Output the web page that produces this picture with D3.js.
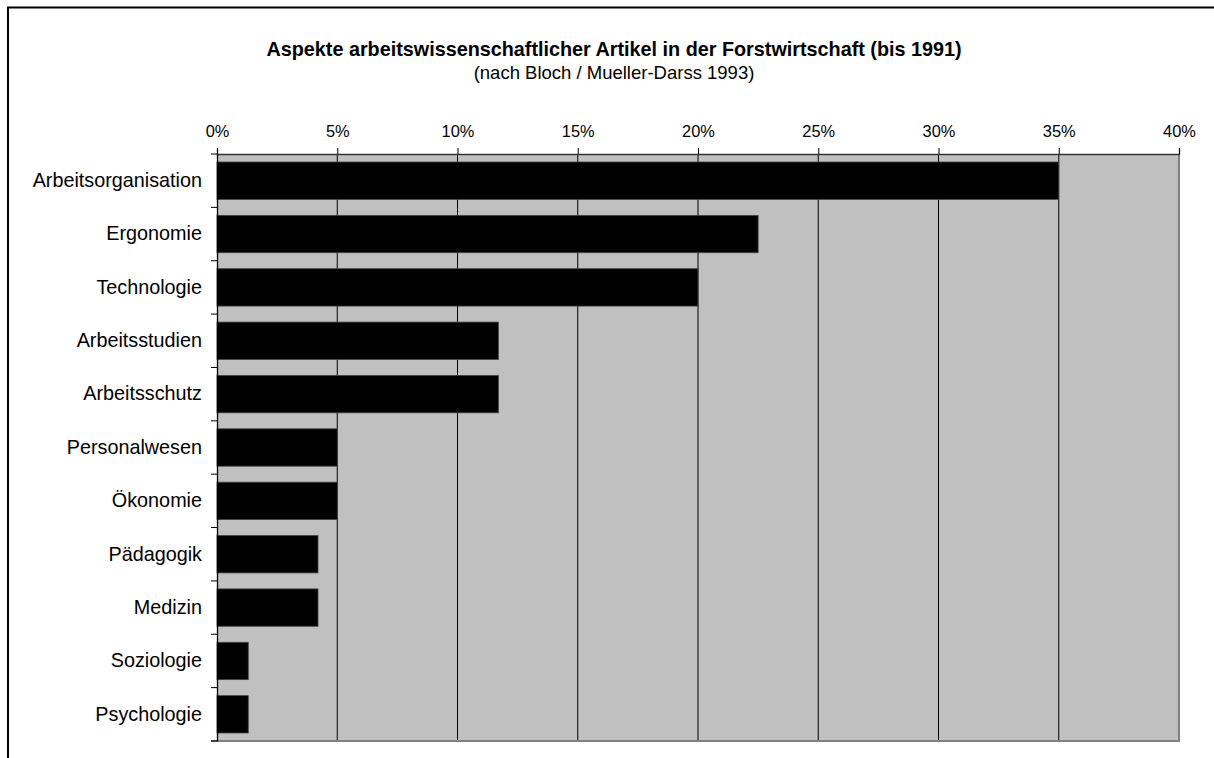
<!DOCTYPE html>
<html>
<head>
<meta charset="utf-8">
<script src="https://cdn.jsdelivr.net/npm/d3@7/dist/d3.min.js"></script>
<style>
  html, body { margin: 0; padding: 0; background: #fff; }
  svg { display: block; }
  text { font-family: "Liberation Sans", Arial, sans-serif; fill: #000; }
</style>
</head>
<body>
<svg id="chart" width="1214" height="758"></svg>
<script>
const title = "Aspekte arbeitswissenschaftlicher Artikel in der Forstwirtschaft (bis 1991)";
const subtitle = "(nach Bloch / Mueller-Darss 1993)";
const categories = ["Arbeitsorganisation", "Ergonomie", "Technologie", "Arbeitsstudien", "Arbeitsschutz",
  "Personalwesen", "Ökonomie", "Pädagogik", "Medizin", "Soziologie", "Psychologie"];
const values = [0.35, 0.225, 0.20, 0.117, 0.117, 0.050, 0.050, 0.042, 0.042, 0.013, 0.013];
const tickValues = [0, 0.05, 0.10, 0.15, 0.20, 0.25, 0.30, 0.35, 0.40];

(function () {
const svg = d3.select("#chart");
const pL = 217, pR = 1179, pT = 154, pB = 741;

// outer border (extends beyond window on right and bottom)
svg.append("rect").attr("x", 8).attr("y", 7.5).attr("width", 1230).attr("height", 800)
  .attr("fill", "none").attr("stroke", "#000").attr("stroke-width", 2);

svg.append("text").attr("x", 614).attr("y", 56).attr("text-anchor", "middle")
  .attr("font-size", 19.8).attr("font-weight", "bold").text(title);
svg.append("text").attr("x", 614).attr("y", 78.5).attr("text-anchor", "middle")
  .attr("font-size", 18.5).text(subtitle);

const x = d3.scaleLinear().domain([0, 0.4]).range([pL, pR]);
const y = d3.scaleBand().domain(categories).range([pT, pB]).paddingInner(0.3).paddingOuter(0.15);

// plot background
svg.append("rect").attr("x", pL).attr("y", pT).attr("width", pR - pL).attr("height", pB - pT)
  .attr("fill", "#c0c0c0");

// gridlines
svg.append("g").selectAll("line").data(tickValues.slice(1, -1)).join("line")
  .attr("x1", d => x(d)).attr("x2", d => x(d)).attr("y1", pT).attr("y2", pB)
  .attr("stroke", "#000").attr("stroke-width", 1);

// plot border right & bottom (gray)
svg.append("path").attr("d", `M${pR},${pT}V${pB}H${pL - 6}`)
  .attr("fill", "none").attr("stroke", "#808080").attr("stroke-width", 2);

// bars
svg.append("g").selectAll("rect").data(categories).join("rect")
  .attr("x", x(0)).attr("y", d => y(d))
  .attr("width", (d, i) => x(values[i]) - x(0)).attr("height", y.bandwidth())
  .attr("fill", "#000").attr("stroke", "#444").attr("stroke-width", 0.8);

// top axis
const xAxis = d3.axisTop(x).tickValues(tickValues).tickFormat(d3.format(".0%")).tickSize(6).tickPadding(11);
const gx = svg.append("g").attr("transform", `translate(0,${pT})`).call(xAxis);
gx.select(".domain").attr("stroke", "#333").attr("stroke-width", 1.3);
gx.selectAll(".tick line").attr("stroke", "#000");
gx.selectAll(".tick text").attr("font-size", 16.4).attr("font-family", "Liberation Sans, Arial, sans-serif").attr("fill", "#000");

// left axis
const yAxis = d3.axisLeft(y).tickSize(0).tickPadding(15);
const gy = svg.append("g").attr("transform", `translate(${pL},0)`).call(yAxis);
gy.select(".domain").attr("stroke", "#000").attr("stroke-width", 1.3);
gy.selectAll(".tick text").attr("font-size", 19.8).attr("font-family", "Liberation Sans, Arial, sans-serif").attr("fill", "#000");

// category boundary ticks
const step = y.step();
const boundaries = d3.range(categories.length + 1).map(i => y(categories[0]) - y.paddingInner() * step / 2 + i * step);
svg.append("g").selectAll("line").data(boundaries).join("line")
  .attr("x1", pL - 6).attr("x2", pL).attr("y1", d => d).attr("y2", d => d)
  .attr("stroke", "#000").attr("stroke-width", 1);
})();
</script>
</body>
</html>
